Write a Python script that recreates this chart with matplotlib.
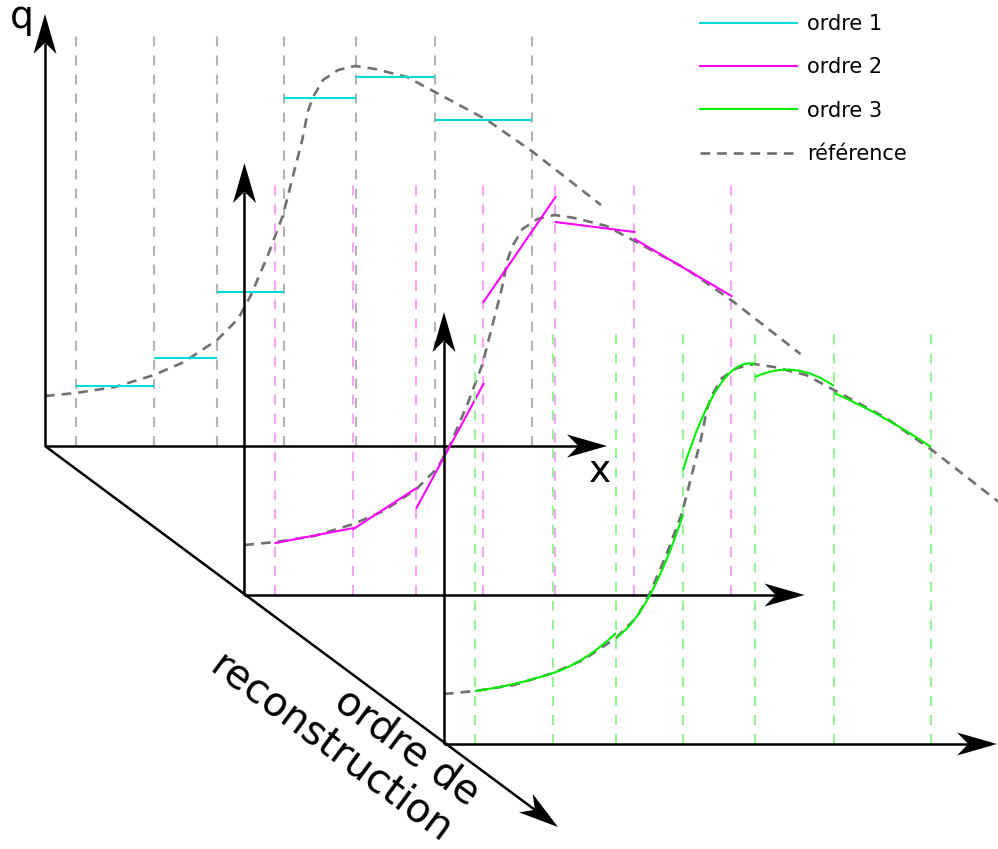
import matplotlib
matplotlib.use('Agg')
import matplotlib.pyplot as plt
from matplotlib.patches import Polygon, PathPatch
from matplotlib.path import Path
from matplotlib.transforms import Affine2D
import numpy as np

plt.rcParams['lines.scale_dashes'] = False

# cell edges along x (same for every reconstruction order)
edges = [31, 109, 172, 239, 311, 390, 487]

# order 1: one constant value per cell
order1 = [60, 88, 154, 348, 369, 326]

# order 2: linear, value at left / right edge of each cell
order2_left = [52, 66, 87, 293, 373, 356]
order2_right = [67, 107, 211, 398, 363, 299]

# order 3: parabola, value at left edge / middle / right edge of each cell
order3_left = [53, 71, 106, 274, 367, 351]
order3_mid = [60, 86, 148, 358, 374, 327]
order3_right = [71, 111, 229, 380, 358, 297]

# reference solution
ref_x = [0, 31, 70, 109, 139, 172, 193, 206, 223, 238, 249, 257, 263, 268,
         278, 293, 310, 330, 362, 390, 442, 488, 556]
ref_q = [50, 53, 59, 71, 84, 106, 127, 151, 191, 231, 274, 305, 335, 349,
         366, 376, 380, 377, 369, 354, 326, 294, 241]

labels = ['ordre 1', 'ordre 2', 'ordre 3', 'référence']
grid_colors = ['#b3b3b3', '#f5a6f0', '#96f296']
cyan, magenta, green, refgray = '#00d9d9', '#ff00ff', '#00ee00', '#707070'

shift = (199.5, -149)        # offset between two layers (depth axis)
x_len = [562, 560, 553]       # length of the x axis on each layer
q_len = 432                   # length of the q axis
grid_h = 412

fig = plt.figure(figsize=(9.98, 8.49), dpi=100)
ax = fig.add_axes([0, 0, 1, 1])
ax.set_xlim(-45, 953)
ax.set_ylim(-403, 446)
ax.axis('off')


def layer(k):
    return Affine2D().translate(shift[0] * k, shift[1] * k) + ax.transData


def arrow(p0, p1, tr, z, L=40, w=11.5):
    p0, p1 = np.array(p0, float), np.array(p1, float)
    u = (p1 - p0) / np.hypot(*(p1 - p0))
    n = np.array([-u[1], u[0]])
    notch = p1 - 0.72 * L * u
    ax.plot([p0[0], notch[0]], [p0[1], notch[1]], color='black', lw=1.8,
            transform=tr, zorder=z, solid_capstyle='butt')
    head = [p1, p1 - L * u + w * n, notch, p1 - L * u - w * n]
    ax.add_patch(Polygon(head, closed=True, fc='black', ec='none',
                         transform=tr, zorder=z))


handles = {}
for k in range(3):
    tr = layer(k)
    z = 2 + k
    ax.vlines(edges, 0, grid_h, colors=grid_colors[k], lw=1.5,
              linestyles=(0, (7.2, 6.5)), transform=tr, zorder=z)
    ref, = ax.plot(ref_x, ref_q, color=refgray, lw=1.9, dashes=(7, 5),
                   transform=tr, zorder=z)
    handles['référence'] = ref
    if k == 0:
        ax.hlines(order1, edges[:-1], edges[1:], colors=cyan, lw=1.5,
                  transform=tr, zorder=z)
        handles['ordre 1'], = ax.plot([], [], color=cyan, lw=1.5)
    elif k == 1:
        for i in range(6):
            h, = ax.plot([edges[i], edges[i + 1]],
                         [order2_left[i], order2_right[i]],
                         color=magenta, lw=1.5, transform=tr, zorder=z)
        handles['ordre 2'] = h
    else:
        for i in range(6):
            x0, x1 = edges[i], edges[i + 1]
            l, m, r = order3_left[i], order3_mid[i], order3_right[i]
            verts = [(x0, l), ((x0 + x1) / 2, 2 * m - (l + r) / 2), (x1, r)]
            path = Path(verts, [Path.MOVETO, Path.CURVE3, Path.CURVE3])
            ax.add_patch(PathPatch(path, fill=False, ec=green, lw=1.5,
                                   transform=tr, zorder=z))
        handles['ordre 3'], = ax.plot([], [], color=green, lw=1.5)
    arrow((0, 0), (0, q_len), tr, z + 0.5)
    arrow((0, 0), (x_len[k], 0), tr, z + 0.5)

# depth axis
arrow((0, 0), (513, -381), ax.transData, 6)

ax.text(-35, 418, 'q', fontsize=27, ha='left', va='baseline')
ax.text(555, -36, 'x', fontsize=27, ha='center', va='baseline')
ax.text(300, -284, 'ordre de\nreconstruction', fontsize=29, rotation=-36.6,
        rotation_mode='anchor', ha='center', va='center',
        multialignment='right', linespacing=1.2)

ax.legend([handles[l] for l in labels], labels, loc='upper left',
          bbox_to_anchor=(655, 432), bbox_transform=ax.transData,
          frameon=False, fontsize=15, handlelength=4.66, handletextpad=0.48,
          labelspacing=1.12, borderpad=0, borderaxespad=0)

fig.savefig('out.png', dpi=100)
